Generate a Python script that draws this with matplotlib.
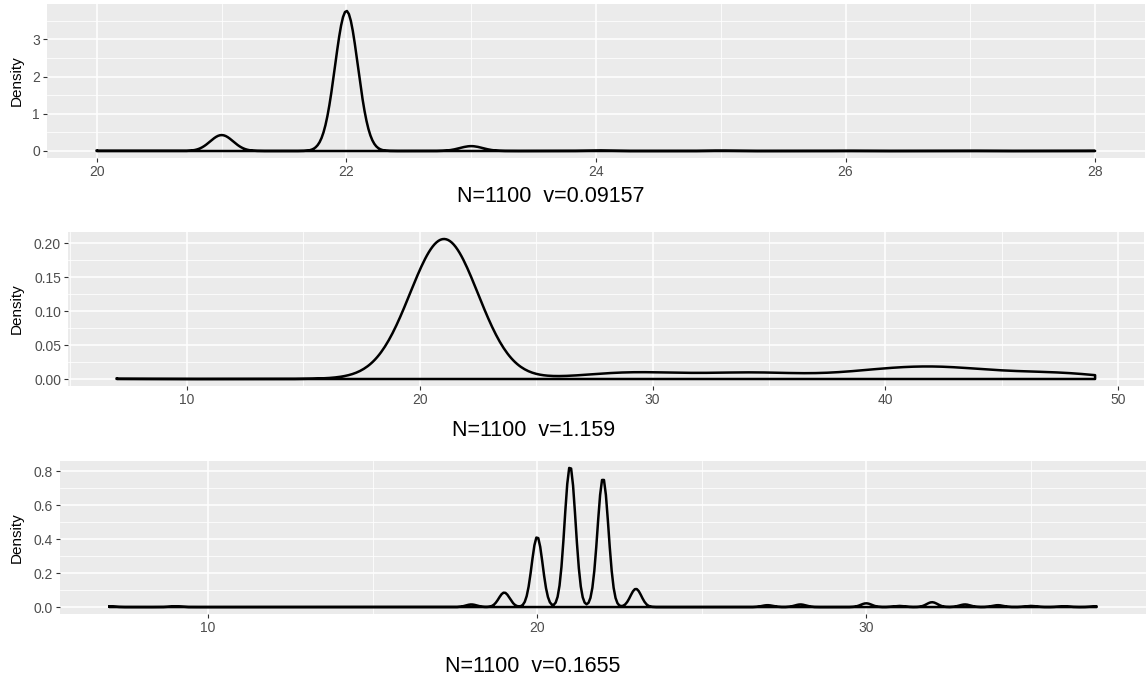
import numpy as np
import matplotlib.pyplot as plt
from matplotlib.ticker import FormatStrFormatter, MultipleLocator

plt.rcParams['font.family'] = ['Liberation Sans', 'DejaVu Sans']

W, H = 1146, 682
n_obs = 1100

# panel 1 - observed values and how many times each one shows up
vals1 = [20, 21, 22, 23, 24, 25, 26, 27, 28]
cnts1 = [1, 108, 950, 33, 3, 2, 1, 1, 1]
bw1 = 0.09157

# panel 2
vals2 = [7, 17, 18, 19, 20, 21, 22, 23, 24, 25, 26, 27, 28, 29, 30, 31, 32,
         33, 34, 35, 36, 37, 38, 39, 40, 41, 42, 43, 44, 45, 46, 47, 48, 49]
cnts2 = [1, 2, 5, 30, 185, 372, 210, 33, 4, 2, 3, 6, 10, 13, 11, 10, 9,
         10, 12, 11, 9, 8, 10, 14, 18, 21, 22, 20, 16, 13, 12, 12, 10, 8]
bw2 = 1.159

# panel 3
vals3 = [7, 9, 18, 19, 20, 21, 22, 23, 27, 28, 30, 31, 32, 33, 34, 35, 36, 37]
cnts3 = [2, 2, 7, 39, 189, 379, 347, 49, 5, 7, 10, 3, 13, 7, 5, 3, 2, 2]
bw3 = 0.1655

labels = ['N=1100  v=0.09157', 'N=1100  v=1.159', 'N=1100  v=0.1655']


def kde(vals, cnts, bw):
    # gaussian kernel density on 512 points, like geom_density
    vals = np.asarray(vals, float)
    cnts = np.asarray(cnts, float)
    grid = np.linspace(vals.min(), vals.max(), 512)
    d = (grid[:, None] - vals[None, :]) / bw
    dens = (np.exp(-0.5 * d ** 2) * cnts).sum(axis=1) / (n_obs * bw * np.sqrt(2 * np.pi))
    return grid, dens


def px_axes(l, t, r, b):
    return fig.add_axes([l / W, 1 - b / H, (r - l) / W, (b - t) / H])


fig = plt.figure(figsize=(W / 100, H / 100), dpi=100)

panels = [
    # (box in pixels, data, x major, x minor, y major, y minor, y fmt, label pos)
    ((47, 4, 1145, 158), (vals1, cnts1, bw1), 2, 1, 1, 0.5, '%d', (551, 197)),
    ((68, 232, 1144, 386), (vals2, cnts2, bw2), 10, 5, 0.05, 0.025, '%.2f', (534, 431)),
    ((60, 461, 1146, 614), (vals3, cnts3, bw3), 10, 5, 0.2, 0.1, '%.1f', (533, 666)),
]

for i, (box, data, xmaj, xmin, ymaj, ymin, yfmt, lpos) in enumerate(panels):
    ax = px_axes(*box)
    x, y = kde(*data)
    # closed outline like ggplot (curve + baseline)
    xs = np.r_[x, x[-1], x[0], x[0]]
    ys = np.r_[y, 0, 0, y[0]]
    ax.plot(xs, ys, color='black', lw=1.8, solid_joinstyle='round', zorder=3)

    xr = x.max() - x.min()
    ax.set_xlim(x.min() - 0.05 * xr, x.max() + 0.05 * xr)
    ax.set_ylim(-0.05 * y.max(), 1.05 * y.max())

    ax.set_facecolor('#EBEBEB')
    for s in ax.spines.values():
        s.set_visible(False)
    ax.xaxis.set_major_locator(MultipleLocator(xmaj))
    ax.xaxis.set_minor_locator(MultipleLocator(xmin))
    ax.yaxis.set_major_locator(MultipleLocator(ymaj))
    ax.yaxis.set_minor_locator(MultipleLocator(ymin))
    ax.yaxis.set_major_formatter(FormatStrFormatter(yfmt))
    ax.grid(which='major', color='white', lw=1.1)
    ax.grid(which='minor', color='white', lw=0.55)
    ax.set_axisbelow(True)
    ax.tick_params(which='major', length=3, width=0.8, color='#333333',
                   labelcolor='#4D4D4D', labelsize=10, pad=2)
    ax.tick_params(which='minor', length=0)

    fig.text(17 / W, 1 - ((box[1] + box[3]) / 2) / H, 'Density', rotation=90,
             ha='center', va='center', fontsize=11, color='black')
    fig.text(lpos[0] / W, 1 - lpos[1] / H, labels[i], ha='center', va='center',
             fontsize=15.5, color='black')

fig.savefig('out.png', dpi=100)
